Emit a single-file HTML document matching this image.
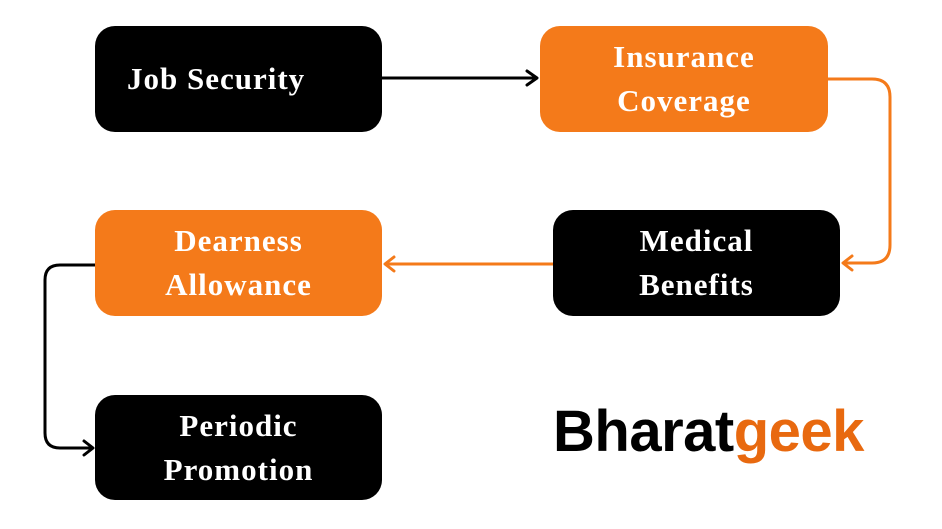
<!DOCTYPE html>
<html><head><style>
body{margin:0;width:942px;height:529px;background:#fff;position:relative;overflow:hidden}
.b{position:absolute;border-radius:20px;color:#fff;font:bold 31px/44px "Liberation Serif",serif;letter-spacing:1px;display:flex;align-items:center;justify-content:center;text-align:center}
.k{background:#000}.o{background:#F47A1A}
.logo{position:absolute;left:553px;top:398px;font:bold 58px "Liberation Sans",sans-serif;letter-spacing:-0.5px;white-space:nowrap}
</style></head><body>
<svg width="942" height="529" style="position:absolute;left:0;top:0">
<g fill="none" stroke-width="3" stroke-linecap="round" stroke-linejoin="round">
<path d="M382 78H536" stroke="#000"/><path d="M527 71L537 78L527 85" stroke="#000"/>
<path d="M828 79H872Q890 79 890 97V245Q890 263 872 263H844" stroke="#F47A1A"/><path d="M852 256L843 263L852 270" stroke="#F47A1A"/>
<path d="M553 264H386" stroke="#F47A1A"/><path d="M394 257L385 264L394 271" stroke="#F47A1A"/>
<path d="M95 265H60Q45 265 45 280V433Q45 448 60 448H92" stroke="#000"/><path d="M84 441L93 448L84 455" stroke="#000"/>
</g></svg>
<div class="b k" style="left:95px;top:26px;width:287px;height:106px;justify-content:flex-start;padding-left:32px;box-sizing:border-box">Job Security</div>
<div class="b o" style="left:540px;top:26px;width:288px;height:106px">Insurance<br>Coverage</div>
<div class="b k" style="left:553px;top:210px;width:287px;height:106px">Medical<br>Benefits</div>
<div class="b o" style="left:95px;top:210px;width:287px;height:106px">Dearness<br>Allowance</div>
<div class="b k" style="left:95px;top:395px;width:287px;height:105px">Periodic<br>Promotion</div>
<div class="logo"><span style="color:#000">Bharat</span><span style="color:#E8690F">geek</span></div>
</body></html>
